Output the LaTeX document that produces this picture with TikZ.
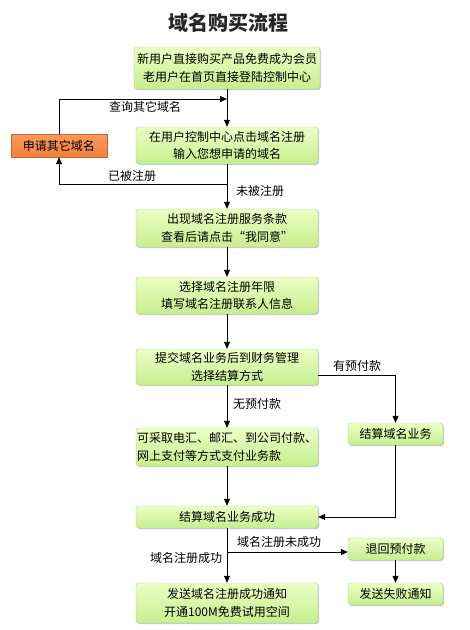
\documentclass[tikz,border=0pt]{standalone}
\usepackage{fontspec}
\setmainfont{Noto Sans CJK SC}
\usepackage{tikz}
\usetikzlibrary{arrows.meta,positioning,shadows}
\definecolor{boxtop}{HTML}{EBFFC4}
\definecolor{boxbot}{HTML}{C6EE8E}
\definecolor{boxline}{HTML}{A9D67A}
\definecolor{redotop}{HTML}{F99A5C}
\definecolor{redobot}{HTML}{F2803E}
\definecolor{redoline}{HTML}{C8652A}
\tikzset{every shadow/.style={fill=black!35,opacity=0.6,shadow xshift=1pt,shadow yshift=-1pt}}
\newcommand{\Zh}{\fontsize{12}{17.5}\selectfont}

\begin{document}
\begin{tikzpicture}[x=1pt,y=-1pt,
  stepbox/.style={rectangle,rounded corners=3pt,draw=boxline,top color=boxtop,bottom color=boxbot,
    drop shadow,inner sep=0pt,minimum width=182pt,align=center,font=\Zh},
  sidebox/.style={stepbox,minimum width=95pt,minimum height=22pt},
  redobox/.style={rectangle,draw=redoline,top color=redotop,bottom color=redobot,
    drop shadow,inner sep=0pt,minimum width=96pt,minimum height=23pt,font=\Zh},
  arr/.style={-{Triangle[length=7pt,width=6pt]},line width=0.8pt,black},
  lbl/.style={font=\Zh,inner sep=1pt}]
\useasboundingbox (0,0) rectangle (470,630);
% \draw[help lines,step=10] (0,0) grid (470,630);
\node (title) [font=\fontsize{20}{24}\selectfont\bfseries,text=black!85] at (228,23) {域名购买流程};
\node (n1) [stepbox,minimum width=186pt,minimum height=42pt] at (227,68) {新用户直接购买产品免费成为会员\\老用户在首页直接登陆控制中心};
\node (n2) [stepbox,minimum height=37pt] at (227,145.5) {在用户控制中心点击域名注册\\输入您想申请的域名};
\node (n3) [stepbox,minimum height=38pt] at (227,228) {出现域名注册服务条款\\查看后请点击“我同意”};
\node (n4) [stepbox,minimum height=37pt] at (227,295.5) {选择域名注册年限\\填写域名注册联系人信息};
\node (n5) [stepbox,minimum height=36pt] at (227,367) {提交域名业务后到财务管理\\选择结算方式};
\node (n6) [stepbox,minimum height=38pt,align=left] at (227,447) {可采取电汇、邮汇、到公司付款、\\网上支付等方式支付业务款};
\node (n7) [stepbox,minimum height=22pt] at (227,517) {结算域名业务成功};
\node (n8) [stepbox,minimum height=40pt] at (227,603) {发送域名注册成功通知\\开通100M免费试用空间};
%
\node (r1) [sidebox] at (395.5,434) {结算域名业务};
\node (r2) [sidebox] at (395.5,549) {退回预付款};
\node (r3) [sidebox] at (395.5,594) {发送失败通知};
\node (o1) [redobox] at (59,145.5) {申请其它域名};
%
\coordinate (ask) at (227,99);
\coordinate (taken) at (227,184);
\coordinate (prepay) at (318,375);
\coordinate (fail) at (227,552);
%
\path[arr] (n1) edge (n2);
\draw[arr] (o1.north) |- (ask);
\draw[line width=0.8pt] (n2.south) -- (taken);
\draw[arr] (taken) -| (o1.south);
\path[arr] (n2) edge (n3);
\path[arr] (n3) edge (n4);
\path[arr] (n4) edge (n5);
\path[arr] (n5) edge (n6);
\draw[arr] (prepay) -| (r1.north);
\path[arr] (n6) edge (n7);
\draw[arr] (r1.south) |- (n7.east);
\path[arr] (n7) edge (n8);
\draw[arr] (fail) -- (fail -| r2.west);
\path[arr] (r2) edge (r3);
%
\node (l1) [lbl] at (145,107) {查询其它域名};
\node (l2) [lbl] at (132,176) {已被注册};
\node (l3) [lbl] at (260,191) {未被注册};
\node (l4) [lbl] at (357,366) {有预付款};
\node (l5) [lbl] at (257,404) {无预付款};
\node (l6) [lbl] at (279,542) {域名注册未成功};
\node (l7) [lbl] at (186,558) {域名注册成功};
\end{tikzpicture}
\end{document}
